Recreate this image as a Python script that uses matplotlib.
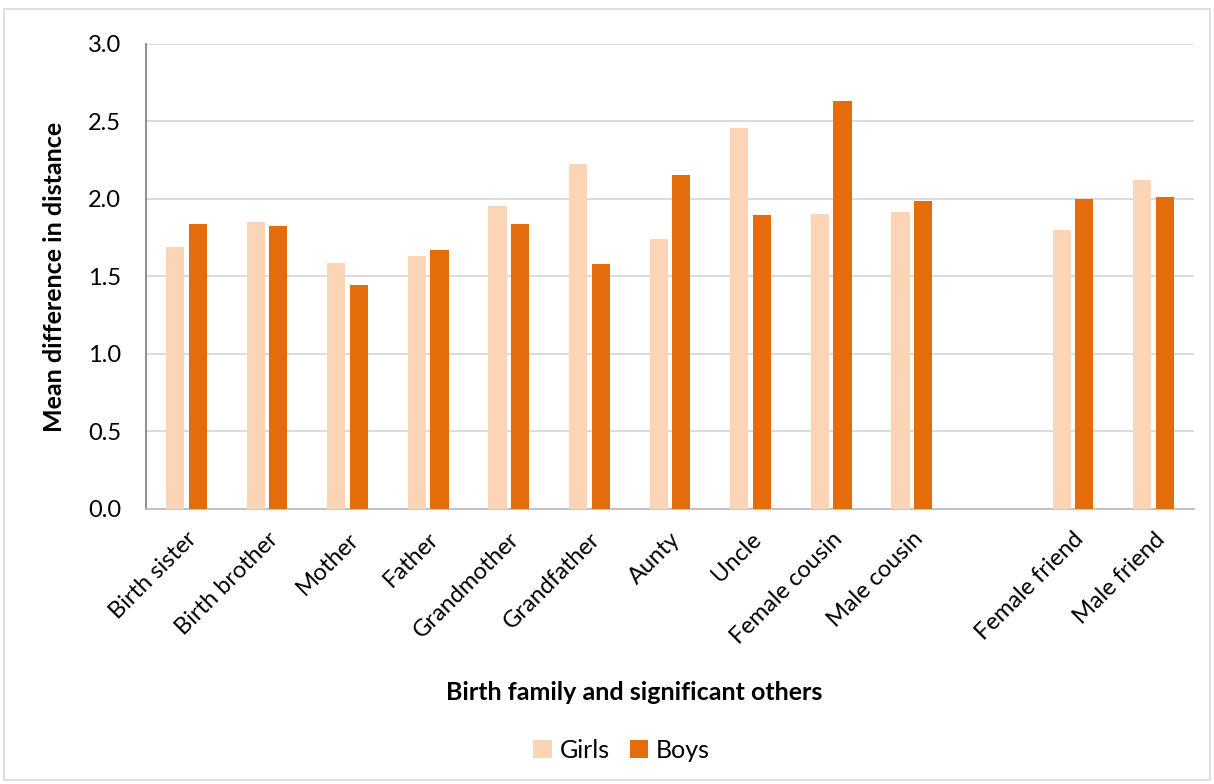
import matplotlib
matplotlib.use("Agg")
import matplotlib.pyplot as plt
import numpy as np
from matplotlib.patches import Rectangle

categories = ["Birth sister", "Birth brother", "Mother", "Father", "Grandmother",
              "Grandfather", "Aunty", "Uncle", "Female cousin", "Male cousin", "",
              "Female friend", "Male friend"]
girls = [1.69, 1.85, 1.59, 1.63, 1.955, 2.225, 1.74, 2.455, 1.90, 1.915, np.nan, 1.80, 2.12]
boys = [1.84, 1.825, 1.445, 1.67, 1.84, 1.58, 2.155, 1.895, 2.63, 1.99, np.nan, 2.0, 2.015]

plt.rcParams['font.family'] = ['Lato', 'DejaVu Sans']

fig = plt.figure(figsize=(12.14, 7.84), dpi=100)
ax = fig.add_axes([0.1203, 0.3508, 0.8632, 0.5931])

x = np.arange(len(categories))
w = 0.225
ax.bar(x - 0.14, girls, width=w, color="#FBD5B5", label="Girls", zorder=3)
ax.bar(x + 0.14, boys, width=w, color="#E46C0A", label="Boys", zorder=3)

ax.set_xlim(-0.5, len(categories) - 0.5)
ax.set_ylim(0, 3.0)
ax.set_yticks(np.arange(0, 3.01, 0.5))
ax.set_yticklabels([f"{v:.1f}" for v in np.arange(0, 3.01, 0.5)], fontsize=17)
ax.yaxis.grid(True, color="#D9D9D9", linewidth=1.3, zorder=0)
ax.set_axisbelow(True)
ax.set_xticks(x)
ax.set_xticklabels(categories, rotation=45, ha="right", rotation_mode="anchor", fontsize=17)
ax.tick_params(axis="y", length=0, pad=18)
ax.tick_params(axis="x", length=0, pad=14)
for s in ["top", "right"]:
    ax.spines[s].set_visible(False)
ax.spines["left"].set_color("#868686")
ax.spines["left"].set_linewidth(1.3)
ax.spines["bottom"].set_color("#BFBFBF")
ax.spines["bottom"].set_linewidth(1.3)

ax.set_ylabel("Mean difference in distance", fontsize=18, fontweight="bold", labelpad=16)
fig.text(0.522, 1 - 692 / 784, "Birth family and significant others", fontsize=18,
         fontweight="bold", ha="center", va="center")

leg = fig.legend(loc="center", bbox_to_anchor=(0.512, 1 - 750 / 784), ncol=2, frameon=False,
                 fontsize=18, handlelength=0.75, handleheight=0.75, columnspacing=0.8,
                 handletextpad=0.3)

fig.patches.append(Rectangle((4 / 1214, 1 - 780 / 784), 1206 / 1214, 771 / 784,
                             transform=fig.transFigure, fill=False,
                             edgecolor="#D9D9D9", linewidth=1.2))

fig.savefig("out.png", dpi=100, facecolor="white")
